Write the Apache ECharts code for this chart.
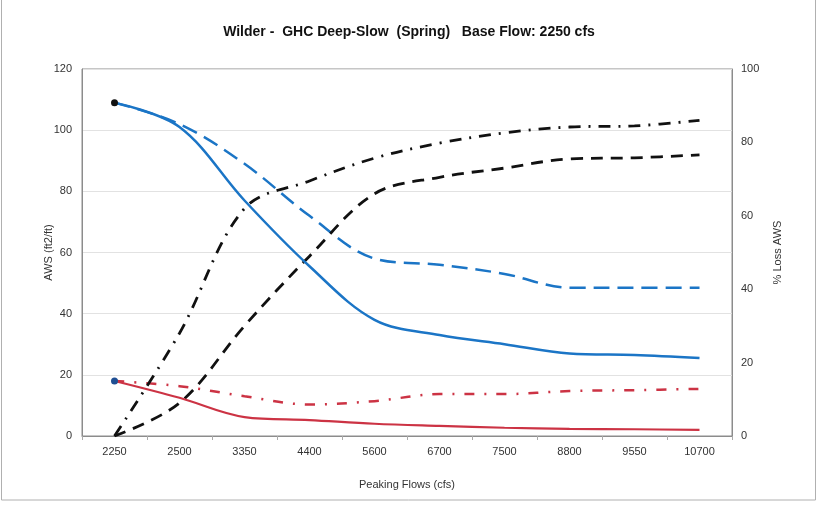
<!DOCTYPE html>
<html><head><meta charset="utf-8">
<script src="https://cdn.jsdelivr.net/npm/echarts@6/dist/echarts.min.js"></script>
<style>html,body{margin:0;padding:0;background:#fff}#c{width:818px;height:506px}</style>
</head><body><div id="c"></div>
<script>
const categories = ['2250','2500','3350','4400','5600','6700','7500','8800','9550','10700'];
const awsBlueSolid = [109, 101, 77, 55.5, 38, 33, 30, 27, 26.5, 25.5];
const awsBlueDashed = [109, 102, 89, 72, 58, 56, 53, 48.5, 48.5, 48.5];
const awsRedSolid = [18, 12.5, 6.2, 5.2, 4, 3.3, 2.7, 2.3, 2.2, 2];
const awsRedDashDot = [18, 16.3, 13, 10.3, 11.4, 13.7, 13.7, 14.7, 15, 15.4];
const lossBlackDashed = [0, 9, 30, 49, 66, 70.5, 73, 75.5, 75.8, 76.6];
const lossBlackDashDot = [0, 28, 62, 69.5, 75.7, 79.8, 82.6, 84.2, 84.5, 86];
const leftTicks = {min: 0, max: 120, interval: 20};
const rightTicks = {min: 0, max: 100, interval: 20};

function firstMarked(arr, color) {
  return arr.map((v, i) => i === 0 ? {value: v, symbol: 'circle', symbolSize: 7, itemStyle: {color: color}} : {value: v, symbol: 'none'});
}
const font = 'Arial, "Liberation Sans", sans-serif';
const chart = echarts.init(document.getElementById('c'), null, {renderer: 'canvas'});
chart.setOption({
  animation: false,
  backgroundColor: '#fff',
  title: {text: 'Wilder -  GHC Deep-Slow  (Spring)   Base Flow: 2250 cfs', left: 'center', top: 20,
    textStyle: {fontFamily: font, fontSize: 14, fontWeight: 'bold', color: '#111'}},
  graphic: [{type: 'rect', shape: {x: 1.5, y: -2, width: 814, height: 502}, style: {fill: 'none', stroke: '#b0b0b0', lineWidth: 1}, silent: true}],
  grid: {left: 82, right: 86, top: 69, bottom: 70, show: true, borderColor: '#8c8c8c', borderWidth: 1},
  xAxis: {type: 'category', data: categories, boundaryGap: true,
    name: 'Peaking Flows (cfs)', nameLocation: 'middle', nameGap: 43,
    nameTextStyle: {fontFamily: font, fontSize: 11, color: '#333'},
    axisLine: {lineStyle: {color: '#8c8c8c'}},
    axisTick: {show: true, length: 4, lineStyle: {color: '#aaa'}},
    axisLabel: {fontFamily: font, fontSize: 11, color: '#333', margin: 10}},
  yAxis: [
    {type: 'value', min: leftTicks.min, max: leftTicks.max, interval: leftTicks.interval, position: 'left',
      name: 'AWS (ft2/ft)', nameLocation: 'middle', nameGap: 28, nameRotate: 90, nameMoveOverlap: false,
      nameTextStyle: {fontFamily: font, fontSize: 11, color: '#333'},
      axisLine: {show: true, lineStyle: {color: '#8c8c8c'}},
      axisTick: {show: false},
      axisLabel: {fontFamily: font, fontSize: 11, color: '#333', margin: 10},
      splitLine: {lineStyle: {color: '#e2e2e2'}}},
    {type: 'value', min: rightTicks.min, max: rightTicks.max, interval: rightTicks.interval, position: 'right',
      name: '% Loss AWS', nameLocation: 'middle', nameGap: 40, nameRotate: 90,
      nameTextStyle: {fontFamily: font, fontSize: 11, color: '#333'},
      axisLine: {show: true, lineStyle: {color: '#8c8c8c'}},
      axisTick: {show: false},
      axisLabel: {fontFamily: font, fontSize: 11, color: '#333', margin: 9},
      splitLine: {show: false}}
  ],
  series: [
    {name: 'AWS solid', type: 'line', yAxisIndex: 0, smooth: 0.35, data: firstMarked(awsBlueSolid, '#111'),
      lineStyle: {color: '#1b75c6', width: 2.5}, itemStyle: {color: '#1b75c6'}, z: 5},
    {name: 'AWS dashed', type: 'line', yAxisIndex: 0, smooth: 0.35, symbol: 'none', data: awsBlueDashed,
      lineStyle: {color: '#1b75c6', width: 2.5, type: [16, 8]}},
    {name: 'Red solid', type: 'line', yAxisIndex: 0, smooth: 0.35, data: firstMarked(awsRedSolid, '#1f4f93'),
      lineStyle: {color: '#cc3344', width: 2.2}, itemStyle: {color: '#cc3344'}, z: 5},
    {name: 'Red dashdot', type: 'line', yAxisIndex: 0, smooth: 0.35, symbol: 'none', data: awsRedDashDot,
      lineStyle: {color: '#cc3344', width: 2.5, type: [10, 10, 2, 10]}},
    {name: 'Loss dashed', type: 'line', yAxisIndex: 1, smooth: 0.35, symbol: 'none', data: lossBlackDashed,
      lineStyle: {color: '#111', width: 2.8, type: [12, 8]}},
    {name: 'Loss dashdot', type: 'line', yAxisIndex: 1, smooth: 0.35, symbol: 'none', data: lossBlackDashDot,
      lineStyle: {color: '#111', width: 2.8, type: [12, 8, 2, 8]}}
  ]
});
</script></body></html>
